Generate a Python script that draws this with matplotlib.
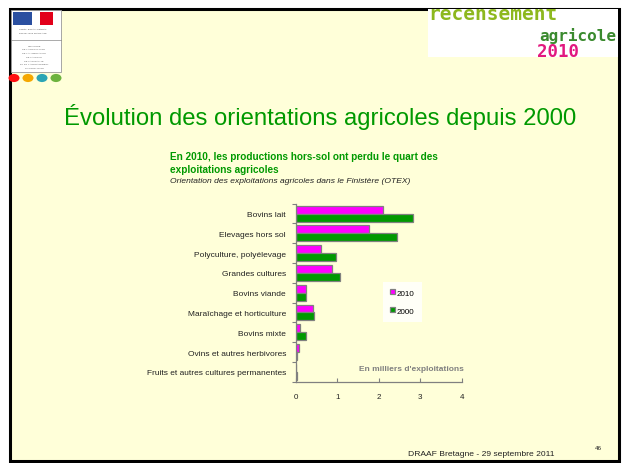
import matplotlib
matplotlib.use("Agg")
import matplotlib.pyplot as plt
from matplotlib.patches import Rectangle, Circle
import numpy as np

plt.rcParams['font.family'] = ['Liberation Sans', 'DejaVu Sans']

categories = ["Bovins lait", "Elevages hors sol", "Polyculture, polyélevage",
              "Grandes cultures", "Bovins viande", "Maraîchage et horticulture",
              "Bovins mixte", "Ovins et autres herbivores",
              "Fruits et autres cultures permanentes"]
values_2010 = [2.10, 1.77, 0.60, 0.88, 0.24, 0.42, 0.11, 0.07, 0.01]
values_2000 = [2.82, 2.45, 0.98, 1.07, 0.26, 0.45, 0.24, 0.04, 0.02]
series_labels = ["2010", "2000"]
xticks = [0, 1, 2, 3, 4]

W, H = 627, 464
fig = plt.figure(figsize=(W / 100, H / 100), dpi=100)
fig.patch.set_facecolor("white")

def fx(x):
    return x / W

def fy(y):
    return 1 - y / H

# slide background and frame
bg = Rectangle((fx(10), fy(462)), fx(609), 452 / H, transform=fig.transFigure,
               facecolor="#FFFFD9", edgecolor="black", linewidth=2.2, zorder=-5)
fig.patches.append(bg)

# left logo box
fig.patches.append(Rectangle((fx(11), fy(73)), fx(50), 62 / H, transform=fig.transFigure,
                             facecolor="white", edgecolor="#999999", linewidth=0.6, zorder=1))
fig.patches.append(Rectangle((fx(13), fy(26)), fx(19), 13 / H, transform=fig.transFigure,
                             facecolor="#2A4FA0", edgecolor="none", zorder=2))
fig.patches.append(Rectangle((fx(40), fy(26)), fx(13), 13 / H, transform=fig.transFigure,
                             facecolor="#E2001A", edgecolor="none", zorder=2))
fig.lines.append(plt.Line2D([fx(11), fx(61)], [fy(41), fy(41)], transform=fig.transFigure,
                            color="#888888", linewidth=0.5, zorder=2))
fig.text(fx(33), fy(29), "Liberté • Égalité • Fraternité", fontsize=1.6, color="#555555",
         ha="center", va="center", zorder=3)
fig.text(fx(33), fy(33), "RÉPUBLIQUE FRANÇAISE", fontsize=1.6, color="#555555",
         ha="center", va="center", zorder=3)
ministry = ["MINISTÈRE", "DE L'AGRICULTURE", "DE L'ALIMENTATION", "DE LA PÊCHE",
            "DE LA RURALITÉ", "ET DE L'AMÉNAGEMENT", "DU TERRITOIRE"]
for i, line in enumerate(ministry):
    fig.text(fx(34), fy(46 + i * 3.7), line, fontsize=1.7, color="#666666",
             ha="center", va="center", zorder=3)
for cx, col in zip([14, 28, 42, 56], ["#FF1010", "#F5A800", "#2BA5B5", "#6DB33F"]):
    fig.patches.append(Circle((fx(cx), fy(79)), 5.5 / W, transform=fig.transFigure,
                              facecolor=col, edgecolor="none", zorder=3))

# right logo
logo_box = Rectangle((fx(428), fy(58)), fx(190), 48 / H, transform=fig.transFigure,
                     facecolor="white", edgecolor="none", zorder=1)
fig.patches.append(logo_box)
t1 = fig.text(fx(428), fy(14), "recensement", fontsize=14, color="#8DB81E",
              ha="left", va="center", fontweight="bold", zorder=3,
              family="DejaVu Sans Mono")
t2 = fig.text(fx(539), fy(41), "agricole", fontsize=11.5, color="#3A8A2E",
              ha="left", va="baseline", fontweight="bold", zorder=3,
              family="DejaVu Sans Mono")
t3 = fig.text(fx(537), fy(57), "2010", fontsize=12.5, color="#E2187F",
              ha="left", va="baseline", fontweight="bold", zorder=3,
              family="DejaVu Sans Mono")
for t in (t1, t2, t3):
    t.set_clip_path(logo_box)

# slide title
fig.text(fx(320), fy(117), "Évolution des orientations agricoles depuis 2000",
         fontsize=17.2, color="#009900", ha="center", va="center")

# chart titles
fig.text(fx(170), fy(157), "En 2010, les productions hors-sol ont perdu le quart des",
         fontsize=7.2, color="#009900", fontweight="bold", ha="left", va="center")
fig.text(fx(170), fy(170), "exploitations agricoles",
         fontsize=7.2, color="#009900", fontweight="bold", ha="left", va="center")
fig.text(fx(170), fy(181.5), "Orientation des exploitations agricoles dans le Finistère (OTEX)",
         fontsize=6.1, color="#222222", style="italic", ha="left", va="center")

# chart
ax = fig.add_axes([fx(295.7), fy(382.7), fx(461.7 - 295.7), (382.7 - 204.7) / H])
ax.set_zorder(10)
ax.set_facecolor("none")
y = np.arange(len(categories))
h = 0.4
ax.barh(y - h / 2, values_2010, height=h, color="#FF00FF", edgecolor="#808080",
        linewidth=0.9, label=series_labels[0])
ax.barh(y + h / 2, values_2000, height=h, color="#009900", edgecolor="#808080",
        linewidth=0.9, label=series_labels[1])
ax.set_ylim(len(categories) - 0.5, -0.5)
ax.set_xlim(0, 4)
ax.set_yticks(y)
ax.set_yticklabels(categories, fontsize=6.0, color="#222222")
ax.set_yticks(np.arange(-0.5, len(categories)), minor=True)
ax.tick_params(axis="y", which="major", length=0, pad=7)
ax.tick_params(axis="y", which="minor", length=3, color="#808080", width=0.8)
ax.set_xticks(xticks)
ax.set_xticklabels([str(v) for v in xticks], fontsize=5.8, color="#222222")
ax.tick_params(axis="x", length=3, color="#808080", width=0.8, pad=8, direction="in")
for s in ["top", "right"]:
    ax.spines[s].set_visible(False)
for s in ["left", "bottom"]:
    ax.spines[s].set_color("#808080")
    ax.spines[s].set_linewidth(0.9)

leg = ax.legend(loc="upper left", bbox_to_anchor=(fx(383), fy(283)),
                bbox_transform=fig.transFigure, fontsize=5.8, frameon=True,
                handlelength=0.6, handleheight=0.6, handletextpad=0.2,
                labelspacing=1.3, borderpad=0.9, borderaxespad=0, fancybox=False)
leg.get_frame().set_facecolor("white")
leg.get_frame().set_edgecolor("none")

fig.text(fx(411), fy(369.5), "En milliers d'exploitations", fontsize=6.0,
         color="#808080", fontweight="bold", ha="center", va="center")

# footer
fig.text(fx(481), fy(455), "DRAAF Bretagne - 29 septembre 2011", fontsize=6.1,
         color="#222222", ha="center", va="center")
fig.text(fx(598), fy(449), "46", fontsize=4.5, color="#222222", ha="center", va="center")

fig.savefig("out.png", dpi=100)
